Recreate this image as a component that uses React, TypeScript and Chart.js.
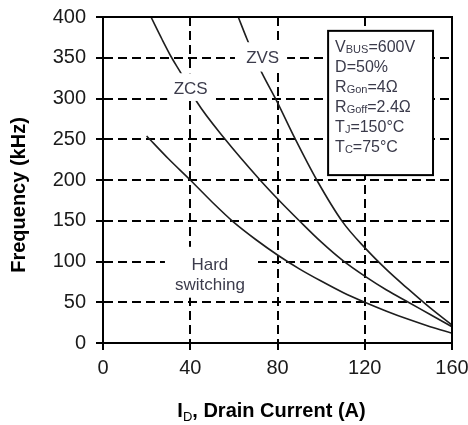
import React, { useEffect, useRef } from 'react';
import { Chart, registerables } from 'chart.js';

Chart.register(...registerables);

// ---- data ----
const xTickValues = [0, 40, 80, 120, 160];
const yTickValues = [0, 50, 100, 150, 200, 250, 300, 350, 400];

const hardI = [20, 30, 40, 50, 60, 70, 80, 90, 100, 110, 120, 130, 140, 150, 160];
const hardF = [254, 226, 200, 173, 148, 127, 108, 91, 76, 62, 50, 39, 29, 20, 12];

const zcsI = [22, 27, 31.5, 36, 43, 56, 72, 80, 90, 100, 110, 120, 130, 140, 150, 160];
const zcsF = [400, 373, 350, 330, 296, 250, 200, 177, 150, 124, 101, 82, 65, 50, 35, 20];

const zvsI = [62, 66, 72, 80, 88, 98, 110, 120, 130, 140, 150, 160];
const zvsF = [400, 373, 336, 295, 251, 200, 148, 117, 90, 66, 43, 22];

const xTitle = [
  { t: 'I', sub: false },
  { t: 'D', sub: true },
  { t: ', Drain Current (A)', sub: false },
];
const yTitle = 'Frequency (kHz)';

const conditionLines = [
  [{ t: 'V', sub: false }, { t: 'BUS', sub: true }, { t: '=600V', sub: false }],
  [{ t: 'D=50%', sub: false }],
  [{ t: 'R', sub: false }, { t: 'Gon', sub: true }, { t: '=4Ω', sub: false }],
  [{ t: 'R', sub: false }, { t: 'Goff', sub: true }, { t: '=2.4Ω', sub: false }],
  [{ t: 'T', sub: false }, { t: 'J', sub: true }, { t: '=150°C', sub: false }],
  [{ t: 'T', sub: false }, { t: 'C', sub: true }, { t: '=75°C', sub: false }],
];

// ---- layout (data-space anchors for annotations) ----
const curveLabels = [
  { text: 'ZVS', x: 73.2, y: 349 },
  { text: 'ZCS', x: 40.2, y: 311 },
  { text: 'Hard', x: 49, y: 95 },
  { text: 'switching', x: 49, y: 71 },
];
// [x1, x2, y1, y2] white patches behind labels
const labelPatches = [
  [60.5, 84.4, 369, 333],
  [29.4, 51.3, 331, 297],
  [28.4, 69.7, 118, 55.6],
];
const condBox = { x1: 103.2, x2: 151.3, y1: 383, y2: 206 };

const FONT = '"Liberation Sans", Arial, Helvetica, sans-serif';

function pts(xs: number[], ys: number[]) {
  return xs.map((v, i) => ({ x: v, y: ys[i] }));
}

function richWidth(ctx: CanvasRenderingContext2D, segs: any[], main: string, sub: string) {
  let w = 0;
  for (const s of segs) {
    ctx.font = s.sub ? sub : main;
    w += ctx.measureText(s.t).width;
  }
  return w;
}

function drawRich(ctx: CanvasRenderingContext2D, segs: any[], x: number, y: number, main: string, sub: string, subDy: number) {
  let cx = x;
  ctx.textAlign = 'left';
  ctx.textBaseline = 'alphabetic';
  for (const s of segs) {
    ctx.font = s.sub ? sub : main;
    ctx.fillText(s.t, cx, s.sub ? y + subDy : y);
    cx += ctx.measureText(s.t).width;
  }
}

const overlay = {
  id: 'overlay',
  afterDatasetsDraw(chart: any) {
    const { ctx, chartArea: a, scales } = chart;
    const xs = scales.x;
    const ys = scales.y;
    ctx.save();
    ctx.fillStyle = '#fff';
    for (const g of labelPatches) {
      const x1 = xs.getPixelForValue(g[0]);
      const x2 = xs.getPixelForValue(g[1]);
      const y1 = ys.getPixelForValue(g[2]);
      const y2 = ys.getPixelForValue(g[3]);
      ctx.fillRect(Math.min(x1, x2), Math.min(y1, y2), Math.abs(x2 - x1), Math.abs(y2 - y1));
    }
    ctx.font = `17px ${FONT}`;
    ctx.fillStyle = '#3c3c4c';
    ctx.textAlign = 'center';
    ctx.textBaseline = 'middle';
    for (const l of curveLabels) {
      ctx.fillText(l.text, xs.getPixelForValue(l.x), ys.getPixelForValue(l.y));
    }
    // condition box
    const bx1 = xs.getPixelForValue(condBox.x1);
    const bx2 = xs.getPixelForValue(condBox.x2);
    const by1 = ys.getPixelForValue(condBox.y1);
    const by2 = ys.getPixelForValue(condBox.y2);
    ctx.fillStyle = '#fff';
    ctx.fillRect(bx1, by1, bx2 - bx1, by2 - by1);
    ctx.strokeStyle = '#000';
    ctx.lineWidth = 2;
    ctx.strokeRect(bx1, by1, bx2 - bx1, by2 - by1);
    ctx.fillStyle = '#3a3a4a';
    conditionLines.forEach((segs, i) => {
      drawRich(ctx, segs, bx1 + 7, by1 + 21 + i * 20, `16px ${FONT}`, `11px ${FONT}`, 1.5);
    });
    // frame
    ctx.strokeStyle = '#000';
    ctx.lineWidth = 2;
    ctx.strokeRect(a.left, a.top, a.right - a.left, a.bottom - a.top);
    ctx.restore();
  },
  afterDraw(chart: any) {
    const { ctx, chartArea: a } = chart;
    ctx.save();
    ctx.fillStyle = '#000';
    // y title
    ctx.translate(19, 195);
    ctx.rotate(-Math.PI / 2);
    ctx.font = `bold 20px ${FONT}`;
    ctx.textAlign = 'center';
    ctx.textBaseline = 'middle';
    ctx.fillText(yTitle, 0, 0);
    ctx.restore();
    ctx.save();
    ctx.fillStyle = '#000';
    const main = `bold 20px ${FONT}`;
    const sub = `13px ${FONT}`;
    const w = richWidth(ctx, xTitle, main, sub);
    const cx = (a.left + a.right) / 2 - 6;
    drawRich(ctx, xTitle, cx - w / 2, 416.5, main, sub, 4);
    ctx.restore();
  },
};

export default function App() {
  const ref = useRef<HTMLCanvasElement | null>(null);
  useEffect(() => {
    if (!ref.current) return;
    const lineStyle = {
      borderColor: '#1e1e1e',
      borderWidth: 1.6,
      pointRadius: 0,
      fill: false,
      cubicInterpolationMode: 'monotone' as const,
    };
    const chart = new Chart(ref.current, {
      type: 'line',
      data: {
        datasets: [
          { label: 'Hard switching', data: pts(hardI, hardF), ...lineStyle },
          { label: 'ZCS', data: pts(zcsI, zcsF), ...lineStyle },
          { label: 'ZVS', data: pts(zvsI, zvsF), ...lineStyle },
        ],
      },
      options: {
        animation: false,
        responsive: false,
        parsing: false as any,
        layout: { padding: { top: 17, right: 16, left: 0, bottom: 0 } },
        plugins: { legend: { display: false }, tooltip: { enabled: false } },
        scales: {
          x: {
            type: 'linear',
            min: 0,
            max: 160,
            afterBuildTicks: (s: any) => {
              s.ticks = xTickValues.map((v) => ({ value: v }));
            },
            afterFit: (s: any) => {
              s.height = 82;
              s.paddingLeft = 0;
              s.paddingRight = 0;
            },
            ticks: { font: { size: 20, family: FONT }, color: '#1a1a1a', padding: 6, maxRotation: 0 },
            grid: { color: '#000', lineWidth: 2, tickLength: 7, tickColor: '#000' },
            border: { display: true, color: '#000', width: 2, dash: [9, 5] },
          },
          y: {
            type: 'linear',
            min: 0,
            max: 400,
            afterBuildTicks: (s: any) => {
              s.ticks = yTickValues.map((v) => ({ value: v }));
            },
            afterFit: (s: any) => {
              s.width = 103;
              s.paddingTop = 0;
              s.paddingBottom = 0;
            },
            ticks: { font: { size: 20, family: FONT }, color: '#1a1a1a', padding: 10 },
            grid: { color: '#000', lineWidth: 2, tickLength: 7, tickColor: '#000' },
            border: { display: true, color: '#000', width: 2, dash: [9, 5] },
          },
        },
      },
      plugins: [overlay],
    });
    return () => chart.destroy();
  }, []);
  return (
    <div style={{ position: 'absolute', left: 0, top: 0, width: 468, height: 425, background: '#fff' }}>
      <canvas ref={ref} width={468} height={425} style={{ display: 'block' }} />
    </div>
  );
}
